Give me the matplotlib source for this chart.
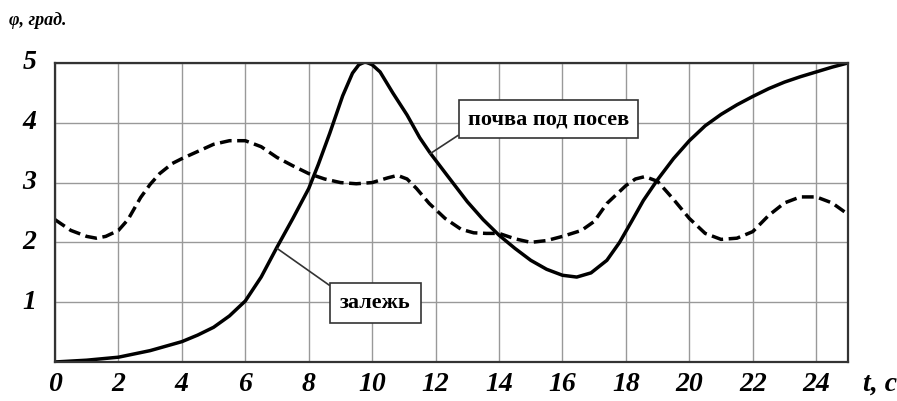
import matplotlib.pyplot as plt

# solid curve (почва под посев)
t_solid = [0, 1, 2, 3, 4, 4.5, 5, 5.5, 6, 6.5, 7, 7.5, 8, 8.3, 8.66, 9.07, 9.38,
           9.58, 9.78, 10.0, 10.25, 10.65, 11.1, 11.5, 11.82, 12.35, 13, 13.5,
           14, 14.5, 15, 15.5, 16, 16.45, 16.9, 17.4, 17.8, 18.2, 18.55, 19,
           19.5, 20, 20.5, 21, 21.5, 22, 22.5, 23, 23.5, 24, 24.5, 25]
phi_solid = [0.0, 0.03, 0.08, 0.19, 0.34, 0.45, 0.58, 0.77, 1.02, 1.42, 1.92,
             2.4, 2.9, 3.3, 3.82, 4.45, 4.83, 4.97, 5.02, 4.97, 4.85, 4.5,
             4.13, 3.75, 3.5, 3.13, 2.68, 2.38, 2.12, 1.9, 1.7, 1.55, 1.45, 1.42,
             1.49, 1.7, 2.0, 2.37, 2.7, 3.05, 3.4, 3.7, 3.95, 4.14, 4.3, 4.44,
             4.57, 4.68, 4.77, 4.85, 4.93, 5.0]

# dashed curve
t_dash = [0, 0.5, 1, 1.3, 1.6, 2, 2.3, 2.7, 3, 3.3, 3.7, 4, 4.5, 5, 5.5, 6, 6.5,
          7, 7.5, 8, 8.5, 9, 9.5, 10, 10.5, 10.8, 11.1, 11.4, 11.8, 12.3, 12.8,
          13.2, 13.6, 14, 14.5, 15, 15.5, 16, 16.6, 17, 17.4, 18, 18.3, 18.6,
          19, 19.5, 20, 20.5, 21, 21.5, 22, 22.5, 23, 23.5, 24, 24.5, 25]
phi_dash = [2.38, 2.2, 2.1, 2.07, 2.1, 2.2, 2.38, 2.75, 2.97, 3.15, 3.32, 3.4,
            3.52, 3.64, 3.7, 3.7, 3.6, 3.42, 3.28, 3.15, 3.06, 3.0, 2.98, 3.0,
            3.08, 3.12, 3.06, 2.9, 2.65, 2.4, 2.22, 2.16, 2.15, 2.15, 2.06,
            2.0, 2.03, 2.1, 2.2, 2.35, 2.65, 2.95, 3.06, 3.1, 3.02, 2.72, 2.4,
            2.15, 2.05, 2.07, 2.18, 2.45, 2.66, 2.76, 2.76, 2.66, 2.47]

x_ticks = list(range(0, 25, 2))
y_ticks = [1, 2, 3, 4, 5]

tick_font = dict(family='Liberation Serif', weight='bold', style='italic', size=20)
box_font = dict(family='Liberation Serif', weight='bold', size=16)

fig = plt.figure(figsize=(8.97, 4.01), dpi=100)
ax = fig.add_axes([0.0613, 0.0973, 0.884, 0.7457])

ax.plot(t_solid, phi_solid, color='black', lw=2.5, solid_joinstyle='round')
ax.plot(t_dash, phi_dash, color='black', lw=2.5, dashes=(3.4, 1.6))

ax.set_xlim(0, 25)
ax.set_ylim(0, 5)
ax.set_xticks(range(0, 26, 2))
ax.set_xticks([25], minor=True)
ax.set_yticks(range(0, 6))
ax.set_xticklabels([])
ax.set_yticklabels([])
ax.grid(True, which='both', color='#999999', lw=1)
ax.tick_params(length=0, which='both')
for s in ax.spines.values():
    s.set_linewidth(1.6)
    s.set_color('#333333')

for x in x_ticks:
    ax.text(x, -0.17, str(x), ha='center', va='top', **tick_font)
for y in y_ticks:
    ax.text(-0.8, y, str(y), ha='center', va='center', **tick_font)
ax.text(26.0, -0.17, 't, c', ha='center', va='top', **tick_font)
fig.text(0.01, 0.95, 'φ, град.', family='Liberation Serif', weight='bold',
         style='italic', size=13, va='center')

ax.annotate('почва под посев', xy=(11.82, 3.48), xytext=(15.55, 4.06),
            ha='center', va='center', **box_font,
            bbox=dict(boxstyle='square,pad=0.4', fc='white', ec='#333333', lw=1.2),
            arrowprops=dict(arrowstyle='-', color='#333333', lw=1.2, relpos=(0, 0),
                            shrinkA=0, shrinkB=0))
ax.annotate('залежь', xy=(7.0, 1.9), xytext=(10.1, 0.99),
            ha='center', va='center', **box_font,
            bbox=dict(boxstyle='square,pad=0.45', fc='white', ec='#333333', lw=1.2),
            arrowprops=dict(arrowstyle='-', color='#333333', lw=1.2, relpos=(0, 1),
                            shrinkA=0, shrinkB=0))

fig.savefig('out.png', dpi=100)
